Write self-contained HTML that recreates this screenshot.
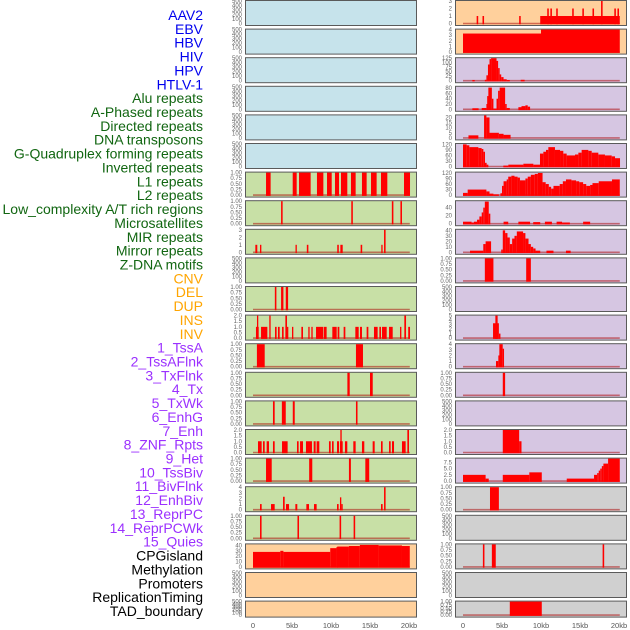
<!DOCTYPE html>
<html><head><meta charset="utf-8"><style>
html,body{margin:0;padding:0;background:#fff;}
svg{display:block;font-family:"Liberation Sans",sans-serif;}
</style></head><body>
<svg id="chart" width="630" height="630" viewBox="0 0 630 630" xmlns="http://www.w3.org/2000/svg"></svg>
<script>
// ---- data: segments [startKb, endKb, value] ----
const trackLabels = ["AAV2","EBV","HBV","HIV","HPV","HTLV-1","Alu repeats","A-Phased repeats","Directed repeats","DNA transposons","G-Quadruplex forming repeats","Inverted repeats","L1 repeats","L2 repeats","Low_complexity A/T rich regions","Microsatellites","MIR repeats","Mirror repeats","Z-DNA motifs","CNV","DEL","DUP","INS","INV","1_TssA","2_TssAFlnk","3_TxFlnk","4_Tx","5_TxWk","6_EnhG","7_Enh","8_ZNF_Rpts","9_Het","10_TssBiv","11_BivFlnk","12_EnhBiv","13_ReprPC","14_ReprPCWk","15_Quies","CPGisland","Methylation","Promoters","ReplicationTiming","TAD_boundary"];
const xTickLabels = ["0","5kb","10kb","15kb","20kb"];
const xTickValues = [0,5,10,15,20];
const ticks1 = ["0.00","0.25","0.50","0.75","1.00"];
const ticks500 = ["0","100","200","300","400","500"];

const L6 = [[1.67,2.26,1],[5.09,5.6,1],[5.9,7.39,1],[8.2,9.02,1],[9.49,10.09,1],[10.51,11.03,1],[11.28,12.09,1],[12.56,13.16,1],[13.97,14.57,1],[15.13,15.85,1],[16.41,17.22,1],[19.36,20.13,1]];
const L7 = [[3.6,3.8,1],[12.6,12.8,1],[17.8,18.0,1],[18.9,19.1,1]];
const L8 = [[0.3,0.55,1],[0.9,1.07,1],[5.45,5.6,1],[6.9,7.1,1],[10.8,11.0,1],[11.2,11.5,1],[13.8,14.0,1],[16.45,16.6,1],[16.8,17.0,3]];
const L10 = [[2.8,3.0,1],[3.6,3.9,1],[4.2,4.5,1]];
const L11 = [[0.38,0.73,1],[0.51,0.64,2],[1.03,1.84,1],[2.09,2.26,2],[2.82,3.03,1],[3.2,3.42,1],[3.72,3.93,1],[4.15,4.36,2],[4.36,4.49,1],[5.0,5.17,1],[6.2,6.41,1],[7.09,7.26,1],[7.48,7.65,1],[8.08,9.02,1],[9.1,9.44,1],[10.17,10.73,1],[10.85,11.07,1],[11.62,11.84,1],[13.12,13.55,1],[13.72,13.97,1],[14.57,14.79,1],[15.51,15.98,1],[16.2,16.41,1],[16.54,17.14,1],[17.44,17.91,1],[18.85,19.02,1],[19.4,19.62,2],[19.9,20.13,1]];
const L12 = [[0.5,1.5,1],[13.2,14.1,1]];
const L13 = [[12.1,12.4,1],[15.0,15.35,1]];
const L14 = [[2.56,2.78,1],[3.7,4.2,1],[5.1,5.35,1],[13.2,13.4,1]];
const L15 = [[0.64,1.11,1],[1.28,1.5,1],[1.75,2.05,1],[2.56,2.78,1],[3.72,4.44,1],[5.64,5.85,1],[6.03,6.41,1],[6.79,7.56,1],[7.78,8.03,1],[8.16,8.5,1],[9.74,9.96,1],[10.13,10.34,1],[10.77,11.03,1],[11.15,11.5,1],[11.2,11.37,2],[11.79,12.09,1],[12.86,13.16,1],[13.97,14.27,1],[15.34,15.6,1],[16.41,16.62,1],[17.44,17.65,1],[17.82,18.08,1],[19.1,19.57,1],[19.79,20.0,2]];
const L16 = [[1.67,2.4,1],[7.2,7.6,1],[12.3,12.55,1],[14.4,14.9,1]];
const L17 = [[0.9,1.11,1],[2.31,2.78,1],[3.85,4.06,2.3],[4.23,4.62,1],[5.43,5.68,1],[6.84,7.18,1],[7.82,8.16,1],[10.77,10.98,1],[11.15,11.32,2.2],[11.32,11.5,1],[16.41,16.62,1],[16.8,17.0,4]];
const L18 = [[0.9,1.1,1],[5.7,5.9,1],[11.1,11.3,1],[12.9,13.1,1]];
const L19 = [[0,3.5,28],[3.5,3.9,30],[3.9,9.9,28],[9.9,10.7,35],[10.7,10.8,37],[10.8,12.3,38],[12.3,13.7,39],[13.7,16.1,41],[16.1,19.1,40],[19.1,20.1,39]];

const R0 = [[1.75,1.95,1],[2.5,2.7,1],[7.2,7.4,1],[9.9,20.1,1],[10.8,11.0,2],[11.2,11.4,2],[11.95,12.15,2],[14.0,14.2,2],[15.3,15.5,2],[16.6,16.8,2],[17.7,17.9,3],[19.4,19.6,2],[19.8,20.0,2]];
const R1 = [[0,10,3.3],[10,20.1,4]];
const R2 = [[1.2,1.5,4],[2.8,3.0,5],[3.0,3.2,30],[3.2,3.4,90],[3.4,3.6,120],[3.6,4.3,125],[4.3,4.5,110],[4.5,4.7,70],[4.7,4.9,35],[4.9,5.2,20],[5.2,5.6,8],[5.6,6.0,4],[7.4,7.9,5]];
const R3 = [[1.2,2.0,4],[2.4,3.0,5],[3.0,3.1,20],[3.1,3.25,50],[3.25,3.7,82],[3.7,3.9,40],[3.9,4.3,3],[4.3,4.5,40],[4.5,4.7,70],[4.7,5.4,82],[5.4,5.6,20],[5.6,6.0,5],[7.1,7.5,8],[7.5,8.0,12],[8.0,8.3,15],[8.3,8.6,10]];
const R4 = [[0.7,1.97,2.5],[2.7,3.0,22],[3.0,3.4,20],[3.4,4.6,5],[4.6,5.2,4],[5.2,6.1,3]];
const R5 = [[0,0.47,120],[0.47,0.81,115],[0.81,1.97,105],[1.97,2.39,100],[2.39,2.61,95],[2.61,2.82,80],[2.82,3.03,20],[3.03,3.25,10],[5.17,5.81,5],[5.81,7.74,10],[7.74,9.02,15],[9.02,9.87,10],[9.87,10.3,70],[10.3,10.64,80],[10.64,10.94,90],[10.94,11.79,105],[11.79,12.44,90],[12.44,12.86,85],[12.86,13.29,70],[13.29,14.36,60],[14.36,14.79,65],[14.79,15.21,75],[15.21,16.07,90],[16.07,16.5,85],[16.5,17.35,75],[17.35,18.2,65],[18.2,19.06,60],[19.06,19.49,55],[19.49,20.13,45]];
const R6 = [[0,0.6,12],[0.6,3.0,30],[3.0,3.4,20],[3.4,3.9,8],[3.9,4.6,4],[4.8,5.0,10],[5.0,5.2,50],[5.2,5.6,75],[5.6,5.8,85],[5.8,6.2,100],[6.2,6.6,105],[6.6,7.0,100],[7.0,7.3,95],[7.3,8.0,80],[8.0,8.3,90],[8.3,8.7,100],[8.7,9.2,110],[9.2,9.6,115],[9.6,10.2,120],[10.2,10.6,70],[10.6,11.0,60],[11.0,11.3,45],[11.3,11.6,35],[11.6,12.4,50],[12.4,12.8,60],[12.8,13.2,75],[13.2,13.9,85],[13.9,14.5,80],[14.5,14.9,75],[14.9,15.4,70],[15.4,15.8,60],[15.8,16.3,50],[16.3,16.6,55],[16.6,17.4,65],[17.4,19.1,75],[19.1,20.1,85]];
const R7 = [[0,1.1,5],[1.1,1.4,3],[1.4,1.8,5],[1.8,2.1,10],[2.1,2.4,18],[2.4,2.6,28],[2.6,2.8,40],[2.8,3.3,55],[3.3,3.5,25],[5.2,5.8,5],[7.1,8.6,5],[9.0,9.9,4],[10.5,11.4,5],[12.0,12.7,5],[12.7,13.7,3],[15.4,16.3,5]];
const R8 = [[0.9,2.6,3],[2.6,2.9,15],[2.9,3.6,20],[4.9,5.1,5],[5.1,5.4,40],[5.4,5.7,35],[5.7,6.0,27],[6.0,6.3,15],[6.3,6.6,25],[6.6,6.9,30],[6.9,7.7,38],[7.7,8.0,35],[8.0,8.4,25],[8.4,8.7,15],[8.7,9.0,10],[9.0,9.3,7],[9.3,9.9,3],[10.7,11.6,3],[13.2,13.8,3]];
const R9 = [[2.8,3.9,1],[8.1,8.7,1]];
const R11 = [[3.85,4.6,3.3],[4.15,4.44,5],[4.6,4.8,1]];
const R12 = [[4.23,4.53,1],[4.53,4.66,2],[4.66,5.09,4],[5.09,5.26,3.2]];
const R13 = [[5.1,5.4,1]];
const R15 = [[5.1,7.2,2],[7.2,7.5,1]];
const R16 = [[0,2.9,2.5],[2.9,3.3,1],[5.1,8.5,2.5],[8.5,10.1,3.5],[13.3,16.8,1],[16.8,17.2,2.5],[17.2,17.4,3.2],[17.4,17.6,4.2],[17.6,17.8,5],[17.8,18.0,6],[18.0,18.6,7],[18.6,20.1,9]];
const R17 = [[3.46,4.6,1]];
const R19 = [[2.55,2.75,1],[3.7,4.2,1],[17.9,18.1,1]];
const R21 = [[6.0,10.1,1]];

// panel configs: [row, column, bg, ticks, ymax, segments]
const BLUE="#c6e3eb", GREEN="#c8e0a6", ORANGE="#ffd09c", LAV="#d6c6e2", GREY="#d0d0d0";
const panels = [];
for (let r=0;r<6;r++) panels.push([r,0,BLUE,ticks500,500,null]);
const leftData = {6:[ticks1,1,L6],7:[ticks1,1,L7],8:[["0","1","2","3"],3,L8],9:[ticks500,500,null],10:[ticks1,1,L10],11:[["0.0","0.5","1.0","1.5","2.0"],2,L11],12:[ticks1,1,L12],13:[ticks1,1,L13],14:[ticks1,1,L14],15:[["0.0","0.5","1.0","1.5","2.0"],2,L15],16:[ticks1,1,L16],17:[["0","1","2","3","4"],4,L17],18:[ticks1,1,L18]};
for (let r=6;r<=18;r++) panels.push([r,0,GREEN,leftData[r][0],leftData[r][1],leftData[r][2]]);
panels.push([19,0,ORANGE,["0","10","20","30","40"],42,L19]);
panels.push([20,0,ORANGE,ticks500,500,null]);
panels.push([21,0,ORANGE,ticks500,500,null]);
panels.push([0,1,ORANGE,["0","1","2","3"],3,R0]);
panels.push([1,1,ORANGE,["0","1","2","3","4"],4,R1]);
const rightData = {2:[["0","25","50","75","100","125"],125,R2],3:[["0","20","40","60","80"],85,R3],4:[["0","5","10","15","20"],22,R4],5:[["0","30","60","90","120"],122,R5],6:[["0","30","60","90","120"],122,R6],7:[["0","20","40"],56,R7],8:[["0","10","20","30","40"],41,R8],9:[ticks1,1,R9],10:[ticks500,500,null],11:[["0","1","2","3","4","5"],5,R11],12:[["0","1","2","3","4"],4,R12],13:[ticks1,1,R13],14:[ticks500,500,null],15:[["0.0","0.5","1.0","1.5","2.0"],2,R15],16:[["0.0","2.5","5.0","7.5"],9,R16]};
for (let r=2;r<=16;r++) panels.push([r,1,LAV,rightData[r][0],rightData[r][1],rightData[r][2]]);
panels.push([17,1,GREY,ticks1,1,R17]);
panels.push([18,1,GREY,ticks500,500,null]);
panels.push([19,1,GREY,ticks1,1,R19]);
panels.push([20,1,GREY,ticks500,500,null]);
panels.push([21,1,GREY,ticks1,1,R21]);

// ---- drawing ----
const NS="http://www.w3.org/2000/svg";
const svg=document.getElementById('chart');
function mk(tag,attrs,parent){const e=document.createElementNS(NS,tag);for(const k in attrs)e.setAttribute(k,attrs[k]);(parent||svg).appendChild(e);return e;}
const colX=[245,455], PW=171, ROWSTEP=28.6;
function xScale(col,kb){return colX[col]+8+kb*7.8;}
function rowTop(r){return r*ROWSTEP;}
function rowH(r){return r===21?16:25;}

// labels
const labelColors=[];
trackLabels.forEach((t,i)=>{
  let c = i<6?"#0000ee": i<19?"#116611": i<24?"#ffa500": i<39?"#9b30ff":"#000000";
  const tx=mk('text',{x:203,y:15+i*13.86+5,'text-anchor':'end','font-size':14,fill:c});
  tx.textContent=t;
  
  
});

panels.forEach(p=>{
  const [r,col,bg,ticks,ymax,segs]=p;
  const top=rowTop(r), h=rowH(r), left=colX[col];
  const g=mk('g',{});
  
  
  const rect=mk('rect',{x:left+0.5,y:top+0.5,width:PW,height:h,fill:bg,stroke:'#5a5a5a','stroke-width':1},g);
  
  
  const y0=top+h-1.5, yTop=top+1;
  const yScale=v=>y0-(v/ymax)*(y0-yTop);
  // ticks
  const tickMax=parseFloat(ticks[ticks.length-1]);
  ticks.forEach(t=>{
    const v=parseFloat(t);
    const tt=mk('text',{x:left-3,y:yScale(v)+2,'text-anchor':'end','font-size':6,fill:'#666'},g);
    tt.textContent=t;
    
    
  });
  if(segs){
    mk('line',{x1:xScale(col,0),x2:xScale(col,20.1),y1:y0,y2:y0,stroke:'rgba(170,0,0,0.5)','stroke-width':1.6},g);
    segs.forEach(s=>{
      const x1=xScale(col,s[0]), x2=xScale(col,s[1]);
      const b=mk('rect',{x:x1,y:yScale(s[2]),width:Math.max(1.3,x2-x1),height:y0-yScale(s[2])+0.8,fill:'#ff0000'},g);
      
      
    });
  }
});

// x axis labels
[0,1].forEach(col=>{
  xTickValues.forEach((v,i)=>{
    const t=mk('text',{x:xScale(col,v),y:628,'text-anchor':'middle','font-size':7.5,fill:'#555'});
    t.textContent=xTickLabels[i];
    
    
  });
});
</script>
</body></html>
